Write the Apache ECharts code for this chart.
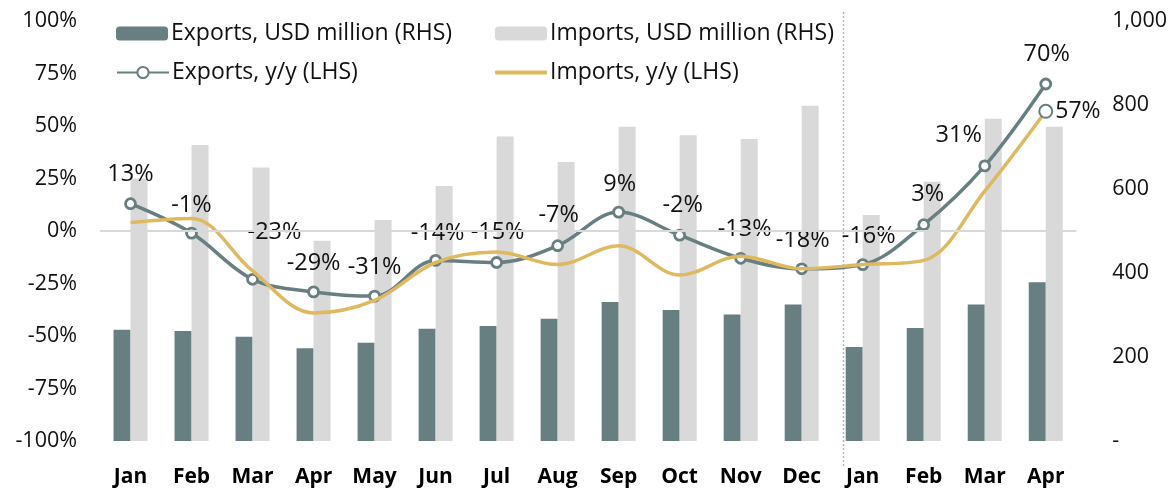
<!DOCTYPE html>
<html>
<head>
<meta charset="utf-8">
<script src="https://cdn.jsdelivr.net/npm/echarts@6/dist/echarts.min.js"></script>
<style>
  html, body { margin: 0; padding: 0; background: #fff; }
  #chart { width: 1170px; height: 491px; }
</style>
</head>
<body>
<div id="chart"></div>
<script>
var months = ['Jan', 'Feb', 'Mar', 'Apr', 'May', 'Jun', 'Jul', 'Aug', 'Sep', 'Oct', 'Nov', 'Dec', 'Jan', 'Feb', 'Mar', 'Apr'];
var exportsUsd = [265, 262, 248, 221, 234, 267, 274, 291, 331, 312, 301, 325, 224, 269, 325, 378];
var importsUsd = [625, 705, 651, 477, 526, 607, 725, 664, 748, 728, 719, 798, 538, 617, 767, 748];
var exportsYoy = [13, -1, -23, -29, -31, -14, -15, -7, 9, -2, -13, -18, -16, 3, 31, 70];
var importsYoy = [4, 6, -19, -39, -33, -15, -10, -16, -7, -21, -12, -18, -16, -14, 19, 57];

// label nudges (dx, dy) relative to the point, px
var labelNudge = [[0, -29], [0, -28], [22, -47], [0, -29], [0, -29], [2, -27], [1, -30], [1, -30],
                  [1, -28], [3, -30], [4, -29], [1, -28], [6, -28], [4, -30], [-26, -31], [1, -30]];

var TEAL = '#687f82', GOLD = '#dfb95f', GREY = '#d9d9d9';
var FONT = 'Open Sans';

var chart = echarts.init(document.getElementById('chart'));

var exportsLineData = exportsYoy.map(function (v, i) {
  return { value: v, label: { offset: labelNudge[i] } };
});
var importsLineData = importsYoy.map(function (v, i) {
  if (i === importsYoy.length - 1) {
    return {
      value: v, symbol: 'circle', symbolSize: 13,
      itemStyle: { color: '#fff', borderColor: TEAL, borderWidth: 2 },
      label: { show: true, position: 'right', distance: 2, formatter: '{c}%', fontSize: 23, fontFamily: FONT, color: '#111' }
    };
  }
  return v;
});

function legendAt(name, left, top, lineOnly) {
  var lg = {
    data: [name], left: left, top: top, itemWidth: 52, itemHeight: lineOnly ? 4 : 14,
    textStyle: { fontSize: 23, lineHeight: 20, fontFamily: FONT, color: '#111', padding: [0, 0, 0, -2] }
  };
  if (lineOnly) lg.icon = 'roundRect';
  return lg;
}

chart.setOption({
  animation: false,
  backgroundColor: '#fff',
  grid: { left: 100, right: 93, top: 21, bottom: 50 },
  legend: [
    legendAt('Exports, USD million (RHS)', 111, 17),
    legendAt('Imports, USD million (RHS)', 490, 17),
    legendAt('Exports, y/y (LHS)', 111, 56),
    legendAt('Imports, y/y (LHS)', 490, 56, true)
  ],
  xAxis: {
    type: 'category', data: months,
    axisLine: { show: false }, axisTick: { show: false },
    axisLabel: { fontSize: 21, fontWeight: 'bold', fontFamily: FONT, color: '#000', margin: 26 }
  },
  yAxis: [{
    type: 'value', min: -100, max: 100, interval: 25,
    splitLine: { show: false }, axisLine: { show: false }, axisTick: { show: false },
    axisLabel: { fontSize: 21.5, fontFamily: FONT, color: '#111', margin: 23, formatter: '{value}%' }
  }, {
    type: 'value', min: 0, max: 1000, interval: 200,
    splitLine: { show: false }, axisLine: { show: false }, axisTick: { show: false },
    axisLabel: {
      fontSize: 21.5, fontFamily: FONT, color: '#111', margin: 36,
      formatter: function (v) { return v === 0 ? '-' : v.toLocaleString('en-US'); }
    }
  }],
  series: [{
    name: 'Exports, USD million (RHS)', type: 'bar', yAxisIndex: 1,
    data: exportsUsd, barWidth: 17, barGap: '0%',
    itemStyle: { color: TEAL }
  }, {
    name: 'Imports, USD million (RHS)', type: 'bar', yAxisIndex: 1,
    data: importsUsd, barWidth: 17,
    itemStyle: { color: GREY }
  }, {
    name: 'Exports, y/y (LHS)', type: 'line', yAxisIndex: 0,
    data: exportsLineData, smooth: 0.35,
    symbol: 'circle', symbolSize: 10,
    lineStyle: { color: TEAL, width: 3.5 },
    itemStyle: { color: '#fff', borderColor: TEAL, borderWidth: 2.8 },
    label: {
      show: true, position: 'inside', align: 'center', verticalAlign: 'middle',
      formatter: '{c}%', fontSize: 23.5, fontFamily: FONT, color: '#111'
    },
    markLine: {
      silent: true, symbol: 'none', label: { show: false },
      lineStyle: { color: GREY, width: 2, type: 'solid' },
      data: [{ yAxis: 0 }]
    },
    z: 3
  }, {
    name: 'Imports, y/y (LHS)', type: 'line', yAxisIndex: 0,
    data: importsLineData, smooth: 0.35,
    symbol: 'none',
    lineStyle: { color: GOLD, width: 3.5 },
    itemStyle: { color: GOLD },
    z: 4
  }]
});

// dotted separator between the two years (sits a bit closer to the new Jan)
var xDec = chart.convertToPixel({ xAxisIndex: 0 }, 11);
var xJan = chart.convertToPixel({ xAxisIndex: 0 }, 12);
var xSep = Math.round(xDec + (xJan - xDec) * 0.67) + 0.5;
chart.setOption({
  graphic: [{
    type: 'line', silent: true, z: 1,
    shape: { x1: xSep, y1: 12, x2: xSep, y2: 466 },
    style: { stroke: '#a9b7bb', lineWidth: 1.5, lineDash: [2, 2] }
  }]
});
</script>
</body>
</html>
